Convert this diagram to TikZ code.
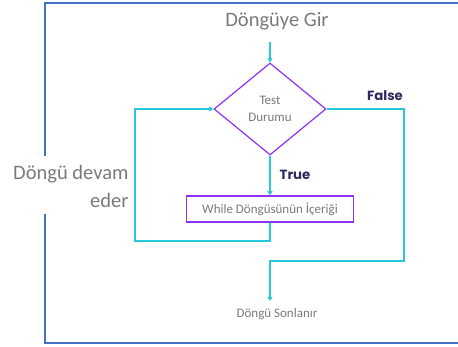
\documentclass[tikz,border=0pt]{standalone}
\usepackage{fontspec}
\setmainfont{Carlito}
\newfontfamily\poppins{Poppins}
\usetikzlibrary{shapes.geometric,arrows.meta}

\definecolor{frameblue}{RGB}{68,114,196}
\definecolor{flowcyan}{RGB}{38,200,218}
\definecolor{boxpurple}{RGB}{140,50,240}
\definecolor{txtgray}{RGB}{122,122,122}
\definecolor{labelnavy}{RGB}{45,42,95}

\tikzset{
  flow/.style={draw=flowcyan, line width=1.2pt},
  flowarrow/.style={flow, -{Triangle[length=4pt,width=5pt]}},
  bigtext/.style={text=txtgray, font=\fontsize{20.5}{28}\selectfont},
  smalltext/.style={text=txtgray, font=\fontsize{13}{17}\selectfont},
  branch/.style={text=labelnavy, font=\poppins\bfseries\fontsize{13.3}{15}\selectfont},
}

\begin{document}
\begin{tikzpicture}[x=1pt,y=-1pt]
    \useasboundingbox (0,0) rectangle (458,347);

    % outer frame, open on the left for the label
    \draw[frameblue, line width=1.5pt] (458,3) -- (45,3) -- (45,156);
    \draw[frameblue, line width=1.5pt] (45,214) -- (45,343) -- (458,343);

    % texts
    \node[bigtext] (enter) at (277,21) {Döngüye Gir};
    \node[bigtext, align=right, anchor=east] (goon) at (132,186) {Döngü devam\\eder};
    \node[smalltext] (exit) at (277,314) {Döngü Sonlanır};
    \node[branch] (falselbl) at (385,96) {False};
    \node[branch] (truelbl) at (295,175) {True};

    % test and body
    \node[diamond, draw=boxpurple, line width=1.2pt, minimum width=112pt,
          minimum height=92pt, inner sep=0pt, align=center, smalltext]
          (test) at (270,109) {Test\\Durumu};
    \node[draw=boxpurple, line width=1.5pt, minimum width=167pt,
          minimum height=26pt, smalltext] (body) at (270,209) {While Döngüsünün İçeriği};

    % corner points
    \coordinate (in) at (270,42);
    \coordinate (falsetop) at (404,109);
    \coordinate (falsebot) at (404,261);
    \coordinate (exitturn) at (270,261);
    \coordinate (loopbr) at (270,241);
    \coordinate (loopbl) at (135,241);
    \coordinate (looptl) at (135,109);

    % connectors
    \draw[flowarrow] (in) -- (test.north);
    \draw[flowarrow] (test.south) -- (body.north);
    \draw[flowarrow] (body.south) -- (loopbr) -- (loopbl) -- (looptl) -- (test.west);
    \draw[flowarrow, shorten >=4pt] (test.east) -- (falsetop) -- (falsebot) -- (exitturn)
        -- (exitturn |- exit.north);
\end{tikzpicture}
\end{document}
